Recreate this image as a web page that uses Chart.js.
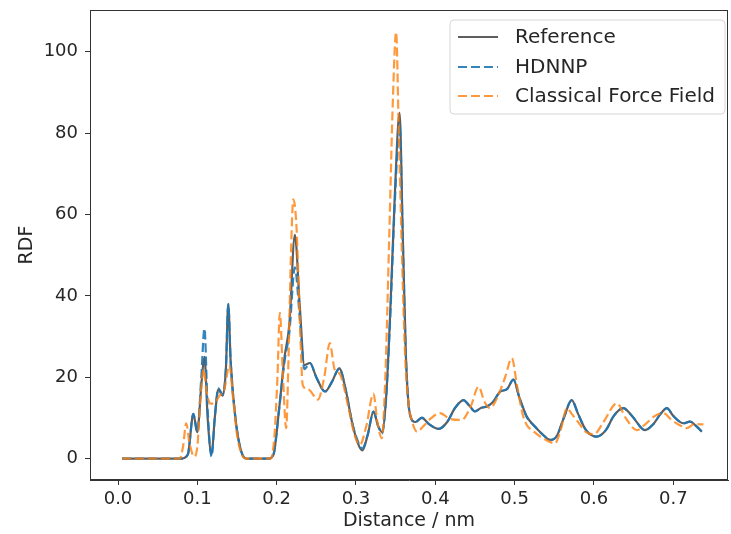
<!DOCTYPE html>
<html>
<head>
<meta charset="utf-8">
<script src="https://cdn.jsdelivr.net/npm/chart.js@4"></script>
<style>
  html, body { margin: 0; padding: 0; background: #fff; }
  #wrap { width: 731px; height: 534px; }
</style>
</head>
<body>
<div id="wrap"><canvas id="rdfChart" width="731" height="534"></canvas></div>
<script>
// Reference RDF
var refX = [0.005, 0.08, 0.088, 0.095, 0.1, 0.105, 0.109, 0.113, 0.118, 0.122, 0.1265, 0.132, 0.136, 0.139, 0.142, 0.148, 0.155, 0.162,
  0.19, 0.196, 0.203, 0.21, 0.216, 0.223, 0.229, 0.235, 0.242, 0.25, 0.261, 0.27, 0.279, 0.287, 0.295, 0.302, 0.308, 0.315, 0.322, 0.328, 0.333,
  0.338, 0.343, 0.349, 0.355, 0.359, 0.363, 0.368, 0.375, 0.383, 0.392, 0.404, 0.415, 0.425, 0.4355, 0.443, 0.45, 0.458, 0.465, 0.473, 0.482,
  0.49, 0.4985, 0.506, 0.515, 0.525, 0.535, 0.545, 0.553, 0.562, 0.572, 0.58, 0.59, 0.6035, 0.615, 0.625, 0.637, 0.648, 0.6645, 0.675, 0.684,
  0.692, 0.7, 0.713, 0.721, 0.73, 0.736];
var refY = [0, 0, 1, 11, 6.5, 18, 25, 10, 1, 10, 17, 15.5, 22, 38, 24, 10, 2, 0,
  0, 1, 12, 25, 33, 55, 38, 23, 23.5, 20, 16.5, 19, 22.2, 17, 9, 4, 2, 6, 11.5, 8, 6.5,
  15, 35, 65, 85, 55, 25, 11, 9, 10, 8.5, 7.3, 9, 12.5, 14.4, 13, 11.6, 12.5, 12.8, 14, 16.5,
  17, 19.4, 15, 10.5, 8, 6, 4.6, 5.5, 10, 14.4, 11, 7, 5.4, 7, 10.5, 12.4, 10.5, 7, 8.5, 11,
  12.4, 10.5, 8.7, 9.1, 7.8, 6.6];

// HDNNP
var nnX = refX;
var nnY = [0, 0, 1, 11, 6.5, 20, 32, 12, 0.5, 10, 17.3, 15.7, 22, 38, 24, 10, 2, 0,
  0, 1, 12, 24, 31, 47, 35, 22, 23.5, 20, 16.5, 19, 22.2, 17, 9, 4.5, 2.5, 6, 11.6, 8, 6.2,
  15, 34, 63, 82, 54, 25, 10.8, 9, 10.1, 8.5, 7.3, 9, 12.5, 14.4, 13, 11.6, 12.5, 12.8, 14, 16.5,
  17, 19.4, 15, 10.3, 8, 6, 4.6, 5.5, 10, 14.4, 11, 7, 5.4, 7, 10.5, 12.4, 10.5, 7, 8.5, 11,
  12.4, 10.5, 8.7, 9.1, 7.8, 6.6];

// Classical force field
var ffX = [0.005, 0.078, 0.082, 0.086, 0.09, 0.096, 0.1, 0.104, 0.108, 0.112, 0.117, 0.123, 0.128, 0.134, 0.1404, 0.145, 0.15, 0.156, 0.162,
  0.192, 0.197, 0.201, 0.204, 0.208, 0.212, 0.215, 0.218, 0.221, 0.225, 0.229, 0.233, 0.24, 0.252, 0.26, 0.267, 0.273, 0.28, 0.29, 0.298, 0.305,
  0.313, 0.322, 0.327, 0.3325, 0.337, 0.342, 0.3465, 0.3506, 0.354, 0.358, 0.362, 0.366, 0.371, 0.377, 0.385, 0.395, 0.406, 0.418, 0.433,
  0.445, 0.4545, 0.462, 0.469, 0.478, 0.488, 0.4965, 0.503, 0.51, 0.515, 0.525, 0.54, 0.551, 0.558, 0.566, 0.572, 0.58, 0.59, 0.6, 0.612,
  0.629, 0.64, 0.654, 0.665, 0.677, 0.687, 0.698, 0.71, 0.717, 0.727, 0.738];
var ffY = [0, 0, 3, 8.7, 4, 0.5, 3, 15, 22, 16, 13.5, 14, 15.5, 17, 23, 15, 6, 1, 0,
  0, 5, 20, 35.8, 20, 7.5, 25, 50, 63.7, 57, 35, 18, 17, 14.5, 20, 28.4, 22, 20.7, 13, 6, 3.4,
  8, 16, 9, 5, 20, 55, 88, 104.8, 80, 50, 25, 14, 9, 6.6, 8, 10, 11.2, 9.8, 9.5,
  13, 17.7, 14, 12.4, 15, 20, 24.7, 18, 11, 8.4, 6.5, 4.5, 3.8, 7, 12.4, 11, 9, 6.5, 6, 9,
  13.6, 10, 7, 8.5, 10.5, 11.2, 9.5, 8, 7.5, 8.5, 8.4];

var xTicks = [0, 0.1, 0.2, 0.3, 0.4, 0.5, 0.6, 0.7];
var yTicks = [0, 20, 40, 60, 80, 100];

var seriesNames = ["Reference", "HDNNP", "Classical Force Field"];
var seriesColors = ["rgba(40,40,40,0.75)", "rgba(31,119,180,0.9)", "rgba(255,127,14,0.8)"];
var seriesDash = [[], [9, 4], [9, 4]];

function toPoints(xs, ys) {
    return xs.map(function (x, i) { return { x: x, y: ys[i] }; });
}

var textColor = "#262626";
var tickFont = { family: "DejaVu Sans", size: 18 };
var titleFont = { family: "DejaVu Sans", size: 19 };

// marco completo y leyenda estilo matplotlib
var framePlugin = {
    id: "frame",
    afterDraw: function (chart) {
        var ctx = chart.ctx;
        var a = chart.chartArea;
        ctx.save();
        ctx.strokeStyle = "#333";
        ctx.lineWidth = 1;
        ctx.setLineDash([]);
        ctx.strokeRect(a.left + 0.5, a.top + 0.5, a.right - a.left - 1, a.bottom - a.top - 1);

        // legend box
        var bx = 450, by = 20, bw = 275, bh = 94, r = 4;
        ctx.beginPath();
        ctx.moveTo(bx + r, by);
        ctx.arcTo(bx + bw, by, bx + bw, by + bh, r);
        ctx.arcTo(bx + bw, by + bh, bx, by + bh, r);
        ctx.arcTo(bx, by + bh, bx, by, r);
        ctx.arcTo(bx, by, bx + bw, by, r);
        ctx.closePath();
        ctx.fillStyle = "rgba(255,255,255,0.85)";
        ctx.fill();
        ctx.strokeStyle = "#d6d6d6";
        ctx.stroke();

        ctx.font = "20px 'DejaVu Sans'";
        ctx.textBaseline = "middle";
        ctx.textAlign = "left";
        var rows = [37, 67, 96];
        for (var i = 0; i < seriesNames.length; i++) {
            ctx.beginPath();
            ctx.strokeStyle = seriesColors[i];
            ctx.lineWidth = 2.2;
            ctx.setLineDash(seriesDash[i]);
            ctx.moveTo(458, rows[i]);
            ctx.lineTo(498, rows[i]);
            ctx.stroke();
            ctx.setLineDash([]);
            ctx.fillStyle = textColor;
            ctx.fillText(seriesNames[i], 515, rows[i] + 1);
        }
        ctx.restore();
    }
};

var datasets = [
    { data: toPoints(refX, refY), order: 3 },
    { data: toPoints(nnX, nnY), order: 2 },
    { data: toPoints(ffX, ffY), order: 1 }
].map(function (d, i) {
    d.label = seriesNames[i];
    d.borderColor = seriesColors[i];
    d.borderDash = seriesDash[i];
    d.borderWidth = 2.2;
    d.pointRadius = 0;
    d.fill = false;
    d.cubicInterpolationMode = "monotone";
    return d;
});

var ctx = document.getElementById("rdfChart").getContext("2d");
var myChart = new Chart(ctx, {
    type: "line",
    data: { datasets: datasets },
    options: {
        responsive: false,
        animation: false,
        layout: { padding: { top: 10, right: 3, left: 0, bottom: 0 } },
        plugins: { legend: { display: false }, tooltip: { enabled: false } },
        scales: {
            x: {
                type: "linear",
                min: -0.0353,
                max: 0.769,
                afterFit: function (scale) {
                    scale.height = 54;
                    scale.paddingLeft = 0;
                    scale.paddingRight = 0;
                },
                afterBuildTicks: function (scale) {
                    scale.ticks = xTicks.map(function (v) { return { value: v }; });
                },
                ticks: {
                    color: textColor, font: tickFont, padding: 4, maxRotation: 0,
                    callback: function (v) { return Number(v).toFixed(1); }
                },
                grid: { display: true, drawOnChartArea: false, tickLength: 5, color: "#333" },
                border: { display: true, color: "#333" },
                title: { display: true, text: "Distance / nm", color: textColor, font: titleFont, padding: { top: 0, bottom: 2 } }
            },
            y: {
                min: -5.25,
                max: 110.25,
                afterFit: function (scale) {
                    scale.width = 90;
                    scale.paddingTop = 0;
                    scale.paddingBottom = 0;
                },
                afterBuildTicks: function (scale) {
                    scale.ticks = yTicks.map(function (v) { return { value: v }; });
                },
                ticks: { color: textColor, font: tickFont, padding: 7 },
                grid: { display: true, drawOnChartArea: false, tickLength: 5, color: "#333" },
                border: { display: true, color: "#333" },
                title: { display: true, text: "RDF", color: textColor, font: titleFont, padding: { top: 16, bottom: 0 } }
            }
        }
    },
    plugins: [framePlugin]
});
</script>
</body>
</html>
